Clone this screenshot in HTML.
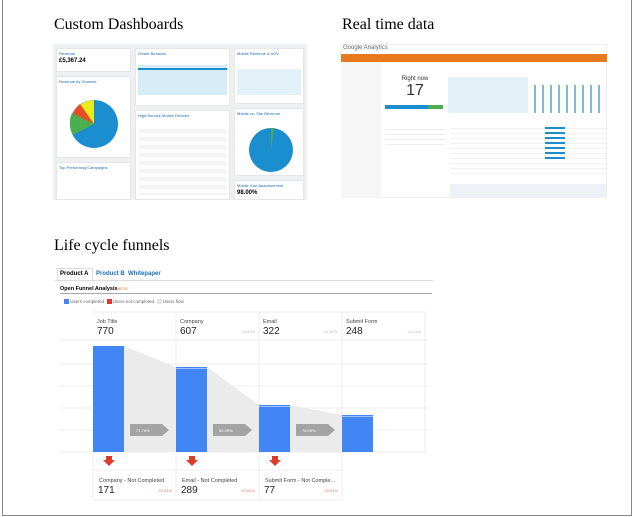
<!DOCTYPE html>
<html><head><meta charset="utf-8"><style>
*{margin:0;padding:0;box-sizing:border-box}
body{width:633px;height:517px;background:#fff;position:relative;overflow:hidden;font-family:"Liberation Sans",sans-serif}
.a{position:absolute}
.t{font-family:"Liberation Serif",serif;font-size:16px;color:#000}
.p{position:absolute;background:#fff;border:1px solid #e6e6e6}
.s{font-size:4px;color:#1a6ea8}
</style></head><body>
<div class="a" style="left:2px;top:0;width:630px;height:516px;border:1px solid #888;border-top:none"></div>
<div class="a t" style="left:54px;top:16px">Custom Dashboards</div>
<div class="a t" style="left:342px;top:16px">Real time data</div>
<div class="a t" style="left:54px;top:237px">Life cycle funnels</div>

<!-- dashboard -->
<div class="a" style="left:53px;top:44px;width:254px;height:156px;background:#eef0f2"></div>
<div class="p" style="left:56px;top:48px;width:75px;height:24px"><div class="s" style="margin:2px">Revenue</div><div style="font-size:6px;font-weight:bold;margin-left:2px">£5,367.24</div></div>
<div class="p" style="left:56px;top:76px;width:75px;height:82px"><div class="s" style="margin:2px">Revenue by Channel</div>
<svg class="a" style="left:12px;top:22px" width="50" height="50" viewBox="0 0 50 50"><circle cx="25" cy="25" r="24" fill="#1b8ed0"/><path d="M25 25 L25 1 A24 24 0 0 0 4 15 Z" fill="#e8ec1a"/><path d="M25 25 L11 5 A24 24 0 0 0 2 22 Z" fill="#e54d26"/><path d="M25 25 L3 14 A24 24 0 0 0 4 36 Z" fill="#4cae4c"/></svg></div>
<div class="p" style="left:56px;top:162px;width:75px;height:38px"><div class="s" style="margin:2px">Top Performing Campaigns</div></div>
<div class="p" style="left:135px;top:48px;width:95px;height:58px"><div class="s" style="margin:2px">Onsite Behavior</div>
<div class="a" style="left:2px;top:16px;width:89px;height:30px;background:#d6ecf7"></div><div class="a" style="left:2px;top:19px;width:89px;height:2px;background:#1b8ed0"></div></div>
<div class="p" style="left:135px;top:110px;width:95px;height:90px"><div class="s" style="margin:2px">High Bounce Mobile Devices</div>
<div class="a" style="left:3px;top:14px;width:88px;height:70px;background:repeating-linear-gradient(#fff 0 4px,#f3f3f3 4px 8px)"></div></div>
<div class="p" style="left:234px;top:48px;width:70px;height:56px"><div class="s" style="margin:2px">Mobile Revenue &amp; AOV</div>
<div class="a" style="left:2px;top:20px;width:64px;height:26px;background:#e3f1f9"></div></div>
<div class="p" style="left:234px;top:108px;width:70px;height:68px"><div class="s" style="margin:2px">Mobile vs. Site Revenue</div>
<svg class="a" style="left:13px;top:18px" width="46" height="46"><circle cx="23" cy="23" r="22" fill="#1b8ed0"/><path d="M23 23 L23 1 L26 1 Z" fill="#4cae4c"/></svg></div>
<div class="p" style="left:234px;top:180px;width:70px;height:20px"><div class="s" style="margin:2px">Mobile Cart Abandonment</div><div style="font-size:6px;font-weight:bold;margin-left:2px">98.00%</div></div>

<!-- realtime -->
<div class="a" style="left:341px;top:44px;width:266px;height:154px;background:#fff;border:1px solid #eee"></div>
<div class="a" style="left:343px;top:45px;font-size:6px;color:#666">Google Analytics</div>
<div class="a" style="left:341px;top:54px;width:266px;height:8px;background:#e8791f"></div>
<div class="a" style="left:341px;top:62px;width:40px;height:136px;background:#f6f6f6"></div>
<div class="a" style="left:385px;top:72px;width:60px;height:40px;text-align:center;color:#333"><div style="font-size:6px;margin-top:4px">Right now</div><div style="font-size:16px">17</div></div>
<div class="a" style="left:385px;top:105px;width:58px;height:4px;background:#1b8ed0"></div><div class="a" style="left:428px;top:105px;width:15px;height:4px;background:#4cae4c"></div>
<div class="a" style="left:448px;top:77px;width:80px;height:36px;background:#e4f1f8"></div>
<div class="a" style="left:528px;top:85px;width:78px;height:28px;background:repeating-linear-gradient(90deg,#fff 0 6px,#7db9dc 6px 8px)"></div>
<div class="a" style="left:450px;top:124px;width:156px;height:52px;background:repeating-linear-gradient(#fff 0 4px,#f2f2f2 4px 5px)"></div>
<div class="a" style="left:545px;top:127px;width:20px;height:35px;background:repeating-linear-gradient(#1b8ed0 0 2px,transparent 2px 5px)"></div>
<div class="a" style="left:385px;top:125px;width:60px;height:20px;background:repeating-linear-gradient(#fff 0 4px,#eee 4px 5px)"></div>
<div class="a" style="left:450px;top:184px;width:156px;height:14px;background:#eef2f6"></div>

<!-- funnel -->
<div class="a" style="left:57px;top:268px;width:36px;height:12px;border:1px solid #ddd;border-bottom:none;font-size:6px;font-weight:bold;padding:2px 2px;white-space:nowrap">Product A</div>
<div class="a" style="left:96px;top:271px;font-size:6px;font-weight:bold;color:#1b6fb3;white-space:nowrap">Product B</div>
<div class="a" style="left:128px;top:271px;font-size:6px;font-weight:bold;color:#1b6fb3">Whitepaper</div>
<div class="a" style="left:55px;top:280px;width:378px;height:1px;background:#ddd"></div>
<div class="a" style="left:60px;top:286px;font-size:5.5px;font-weight:bold">Open Funnel Analysis<span style="color:#e8791f;font-weight:normal;font-size:4px">BETA</span></div>
<div class="a" style="left:60px;top:293px;width:372px;height:1px;background:#aaa"></div>
<div class="a" style="left:64px;top:299px;font-size:4.5px;color:#666;white-space:nowrap"><span style="display:inline-block;width:5px;height:5px;background:#4285f4;vertical-align:middle"></span> Users completed &nbsp;<span style="display:inline-block;width:5px;height:5px;background:#db3b2b;vertical-align:middle"></span> Users not completed &nbsp;<span style="display:inline-block;width:5px;height:5px;background:#e5e5e5;vertical-align:middle"></span> Users flow</div>
<svg class="a" style="left:0;top:0" width="633" height="517">
<g stroke="#eee" stroke-width="1">
<line x1="60" y1="340" x2="427" y2="340"/><line x1="60" y1="364" x2="427" y2="364"/><line x1="60" y1="386" x2="427" y2="386"/><line x1="60" y1="408" x2="427" y2="408"/><line x1="60" y1="430" x2="427" y2="430"/><line x1="60" y1="452" x2="427" y2="452"/>
<line x1="93" y1="312" x2="425" y2="312"/>
<line x1="176" y1="312" x2="176" y2="500"/><line x1="259" y1="312" x2="259" y2="500"/><line x1="342" y1="312" x2="342" y2="452"/><line x1="425" y1="312" x2="425" y2="452"/>
<line x1="93" y1="470" x2="342" y2="470"/><line x1="93" y1="500" x2="342" y2="500"/><line x1="93" y1="452" x2="93" y2="500"/><line x1="342" y1="452" x2="342" y2="500"/>
</g>
<polygon points="124,346 176,367 207,367 259,405 290,405 342,415 342,452 124,452" fill="#ebebeb"/>
<rect x="93" y="346" width="31" height="106" fill="#4285f4"/>
<rect x="176" y="367" width="31" height="85" fill="#4285f4"/><rect x="176" y="368" width="31" height="1" fill="#9cc0fa"/>
<rect x="259" y="405" width="31" height="47" fill="#4285f4"/><rect x="259" y="406" width="31" height="1" fill="#9cc0fa"/>
<rect x="342" y="415" width="31" height="37" fill="#4285f4"/><rect x="342" y="416" width="31" height="1" fill="#9cc0fa"/>
<g fill="#a3a3a3"><polygon points="130,424 162,424 169,430 162,436 130,436"/><polygon points="213,424 245,424 252,430 245,436 213,436"/><polygon points="296,424 328,424 335,430 328,436 296,436"/></g>
<g fill="#fff" font-size="4" font-family="Liberation Sans"><text x="136" y="432">77.79%</text><text x="219" y="432">52.39%</text><text x="302" y="432">78.09%</text></g>
<g fill="#db3b2b"><polygon points="106,456 112,456 112,460 115,460 109,466 103,460 106,460"/><polygon points="189,456 195,456 195,460 198,460 192,466 186,460 189,460"/><polygon points="272,456 278,456 278,460 281,460 275,466 269,460 272,460"/></g>
<g font-family="Liberation Sans" fill="#444">
<text x="97" y="323" font-size="5.5">Job Title</text><text x="97" y="334" font-size="10" fill="#222">770</text>
<text x="180" y="323" font-size="5.5">Company</text><text x="180" y="334" font-size="10" fill="#222">607</text>
<text x="263" y="323" font-size="5.5">Email</text><text x="263" y="334" font-size="10" fill="#222">322</text>
<text x="346" y="323" font-size="5.5">Submit Form</text><text x="346" y="334" font-size="10" fill="#222">248</text>
<g font-size="4" fill="#bbb" text-anchor="end"><text x="255" y="333">78.83%</text><text x="338" y="333">41.82%</text><text x="421" y="333">32.21%</text></g>
<text x="99" y="482" font-size="5.5">Company - Not Completed</text><text x="98" y="493" font-size="10" fill="#222">171</text>
<text x="182" y="482" font-size="5.5">Email - Not Completed</text><text x="181" y="493" font-size="10" fill="#222">289</text>
<text x="265" y="482" font-size="5.5">Submit Form - Not Comple...</text><text x="264" y="493" font-size="10" fill="#222">77</text>
<g font-size="4" fill="#e57373" text-anchor="end"><text x="172" y="492">22.21%</text><text x="255" y="492">47.61%</text><text x="338" y="492">23.91%</text></g>
</g>
</svg>
</body></html>
